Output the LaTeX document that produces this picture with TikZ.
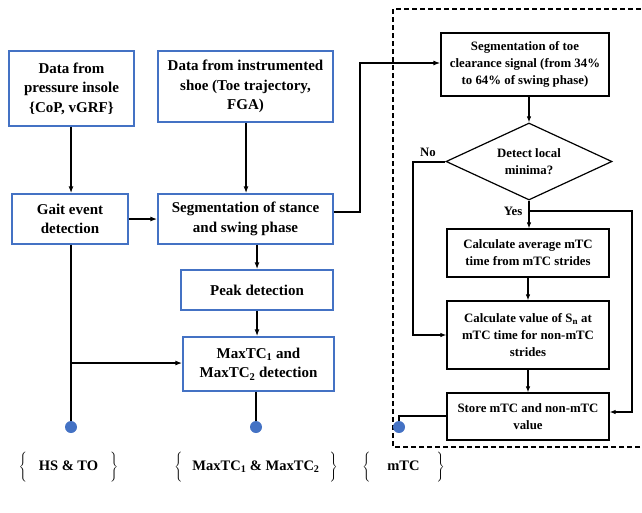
\documentclass[tikz,border=0pt]{standalone}
\usepackage{fontspec}
\setmainfont{Liberation Serif}
\usetikzlibrary{arrows.meta,shapes.geometric}
\definecolor{boxblue}{HTML}{4472C4}
\begin{document}
\begin{tikzpicture}[x=1pt,y=-1pt,
  bbox/.style={draw=boxblue, line width=1.4pt, align=center, inner sep=0pt,
    font=\bfseries\fontsize{15}{19.5}\selectfont},
  kbox/.style={draw=black, line width=1.2pt, align=center, inner sep=0pt,
    font=\bfseries\fontsize{12.8}{17}\selectfont},
  arr/.style={-{Latex[length=7pt,width=5pt]}, line width=1.7pt},
  tarr/.style={-{Latex[length=6pt,width=4.5pt]}, line width=1.1pt},
  thick line/.style={line width=2pt},
  dot/.style={circle, fill=boxblue, inner sep=0pt, minimum size=12pt},
  lbl/.style={font=\bfseries\fontsize{12.8}{14}\selectfont, inner sep=1pt},
  brl/.style={font=\bfseries\fontsize{14.5}{16}\selectfont, inner sep=0pt}
]
\useasboundingbox (0,0) rectangle (642,512);
% dashed frame
\draw[line width=1.4pt, dash pattern=on 5pt off 3pt] (680,447) -- (393,447) -- (393,9) -- (680,9);
% left boxes
\node[bbox, minimum width=125pt, minimum height=75pt] (insole) at (71.5,88.5) {Data from\\pressure insole\\\{CoP, vGRF\}};
\node[bbox, minimum width=175pt, minimum height=71pt] (shoe) at (245.5,86.5) {Data from instrumented\\shoe (Toe trajectory,\\FGA)};
\node[bbox, minimum width=116pt, minimum height=50pt] (gait) at (70,219) {Gait event\\detection};
\node[bbox, minimum width=175pt, minimum height=50pt] (seg) at (245.5,219) {Segmentation of stance\\and swing phase};
\node[bbox, minimum width=152pt, minimum height=40pt] (peak) at (257,290) {Peak detection};
\node[bbox, minimum width=151pt, minimum height=54pt] (maxtc) at (258.5,364) {MaxTC\textsubscript{1} and\\MaxTC\textsubscript{2} detection};
% right boxes
\node[kbox, minimum width=168pt, minimum height=63pt] (segtoe) at (525,64.5) {Segmentation of toe\\clearance signal (from 34\%\\to 64\% of swing phase)};
\node[kbox, diamond, aspect=2.16, minimum width=166pt, minimum height=77pt] (dia) at (529,161.5) {Detect local\\minima?};
\node[kbox, minimum width=162pt, minimum height=48pt] (avg) at (528,253) {Calculate average mTC\\time from mTC strides};
\node[kbox, minimum width=162pt, minimum height=68pt] (calc) at (528,335) {Calculate value of S\textsubscript{n} at\\mTC time for non-mTC\\strides};
\node[kbox, minimum width=162pt, minimum height=47pt] (store) at (528,416.5) {Store mTC and non-mTC\\value};
% dots
\node[dot] (d1) at (71,427) {};
\node[dot] (d2) at (256,427) {};
\node[dot] (d3) at (399,427) {};
% labels
\node[lbl] (no) at (428,152) {No};
\node[lbl] (yes) at (513,211) {Yes};
\node[brl] (b1) at (68.5,467) {$\Bigg\{$\hspace{12pt}HS \& TO\hspace{12pt}$\Bigg\}$};
\node[brl] (b2) at (256,467) {$\Bigg\{$\hspace{10pt}MaxTC\textsubscript{1} \& MaxTC\textsubscript{2}\hspace{10pt}$\Bigg\}$};
\node[brl] (b3) at (403.5,467) {$\Bigg\{$\hspace{17pt}mTC\hspace{17pt}$\Bigg\}$};
% left connectors
\draw[arr] (insole.south -| d1) -- (gait.north -| d1);
\draw[arr] (shoe.south -| 246,0) -- (seg.north -| 246,0);
\draw[arr] (gait.east) -- (seg.west);
\draw[arr] (seg.south -| peak) -- (peak.north);
\draw[arr] (peak.south) -- (maxtc.north -| peak);
\draw[thick line] (gait.south -| d1) -- (d1.north);
\coordinate (br) at (71,363);
\draw[arr] (br) -- (br -| maxtc.west);
\draw[thick line] (maxtc.south -| d2) -- (d2.north);
\coordinate (s1) at (360,212);
\coordinate (s2) at (360,63);
\draw[arr, line width=1.8pt] (seg.east |- s1) -- (s1) -- (s2) -- (s2 -| segtoe.west);
% right connectors
\draw[tarr] (segtoe.south -| dia) -- (dia.north);
\draw[tarr] (dia.south) -- (avg.north -| dia);
\draw[tarr] (avg.south) -- (calc.north);
\draw[tarr] (calc.south) -- (store.north);
\coordinate (n1) at (413,161.5);
\coordinate (n2) at (413,335);
\draw[thick line, -{Latex[length=6pt,width=4.5pt]}] (dia.west) -- (n1) -- (n2) -- (calc.west);
\coordinate (y0) at (529,211);
\coordinate (y1) at (632,211);
\coordinate (y2) at (632,412);
\draw[thick line, -{Latex[length=6pt,width=4.5pt]}] (y0) -- (y1) -- (y2) -- (y2 -| store.east);
\coordinate (m1) at (399,416);
\draw[thick line] (store.west |- m1) -- (m1) -- (d3.north);
\end{tikzpicture}
\end{document}
